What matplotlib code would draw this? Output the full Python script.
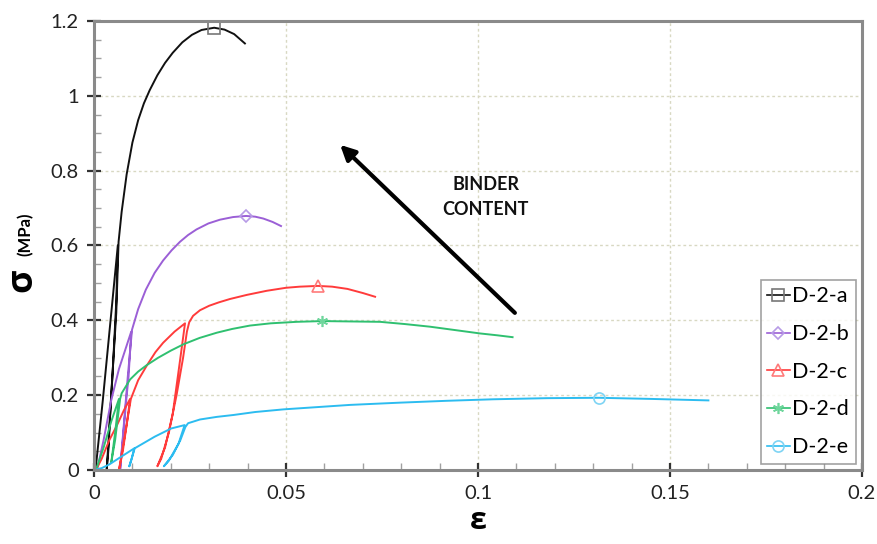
"""Stress-strain curves of the D-2 series under cyclic compression."""

import matplotlib

matplotlib.use("Agg")

import matplotlib.pyplot as plt
import numpy as np
from matplotlib.ticker import FuncFormatter, MultipleLocator

# strain / stress (MPa) for each specimen, including the early unload-reload loops
eps_a = [0.0004, 0.0023, 0.0045, 0.0062, 0.0058, 0.0048, 0.0038, 0.0033,
         0.0038, 0.0044, 0.0058, 0.0064, 0.0072, 0.0085, 0.0100, 0.0115,
         0.0130, 0.0145, 0.0165, 0.0185, 0.0205, 0.0230, 0.0255, 0.0280,
         0.0313, 0.0340, 0.0365, 0.0393]
sig_a = [0.0, 0.187, 0.42, 0.60, 0.45, 0.25, 0.08, 0.0,
         0.06, 0.187, 0.42, 0.61, 0.69, 0.79, 0.875, 0.935,
         0.98, 1.015, 1.055, 1.088, 1.115, 1.143, 1.163, 1.176,
         1.182, 1.177, 1.165, 1.14]

eps_b = [0.0008, 0.0025, 0.0045, 0.0065, 0.0097, 0.0090, 0.0084, 0.0075,
         0.0068, 0.0076, 0.0088, 0.0099, 0.0115, 0.0135, 0.0158, 0.0180,
         0.0202, 0.0224, 0.0245, 0.0267, 0.0298, 0.0328, 0.0362, 0.0396,
         0.0420, 0.0441, 0.0465, 0.0487]
sig_b = [0.0, 0.08, 0.187, 0.27, 0.37, 0.25, 0.187, 0.08,
         0.0, 0.10, 0.25, 0.375, 0.43, 0.482, 0.527, 0.56,
         0.587, 0.61, 0.628, 0.643, 0.659, 0.669, 0.676, 0.679,
         0.677, 0.672, 0.663, 0.652]

eps_c = [0.0005, 0.0020, 0.0040, 0.0060, 0.0078, 0.0094, 0.0085, 0.0075,
         0.0065, 0.0075, 0.0088, 0.0096, 0.0115, 0.0138, 0.0160, 0.0180,
         0.0210, 0.0237, 0.0225, 0.0205, 0.0185, 0.0165, 0.0175, 0.0195,
         0.0215, 0.0232, 0.0242, 0.0248, 0.0258, 0.0276, 0.0300, 0.0325,
         0.0354, 0.0398, 0.0450, 0.0500, 0.0536, 0.0583, 0.0620, 0.0660,
         0.0700, 0.0732]
sig_c = [0.0, 0.03, 0.08, 0.12, 0.16, 0.19, 0.12, 0.05,
         0.0, 0.06, 0.14, 0.19, 0.24, 0.28, 0.315, 0.34,
         0.37, 0.392, 0.30, 0.15, 0.06, 0.01, 0.03, 0.10,
         0.20, 0.30, 0.37, 0.395, 0.412, 0.427, 0.439, 0.448,
         0.457, 0.468, 0.479, 0.487, 0.490, 0.492, 0.490, 0.484,
         0.473, 0.463]

eps_d = [0.0005, 0.0025, 0.0045, 0.0065, 0.0055, 0.0045, 0.0055, 0.0068,
         0.0072, 0.0094, 0.0115, 0.0137, 0.0167, 0.0200, 0.0233, 0.0275,
         0.0320, 0.0360, 0.0406, 0.0460, 0.0528, 0.0594, 0.0670, 0.0745,
         0.0810, 0.0875, 0.0940, 0.1005, 0.1050, 0.1090]
sig_d = [0.0, 0.06, 0.13, 0.19, 0.10, 0.02, 0.08, 0.19,
         0.205, 0.242, 0.263, 0.28, 0.30, 0.319, 0.336, 0.353,
         0.367, 0.377, 0.386, 0.392, 0.396, 0.398, 0.397, 0.396,
         0.39, 0.383, 0.374, 0.365, 0.36, 0.355]

eps_e = [0.0, 0.0020, 0.0040, 0.0070, 0.0105, 0.0098, 0.0092, 0.0098,
         0.0106, 0.0158, 0.0201, 0.0236, 0.0220, 0.0195, 0.0182, 0.0205,
         0.0225, 0.0238, 0.0245, 0.0276, 0.0320, 0.0363, 0.0420, 0.0493,
         0.0580, 0.0667, 0.0797, 0.0920, 0.1040, 0.1180, 0.1315, 0.1450,
         0.1600]
sig_e = [0.0, 0.005, 0.015, 0.035, 0.058, 0.03, 0.01, 0.03,
         0.058, 0.089, 0.111, 0.12, 0.07, 0.025, 0.01, 0.04,
         0.08, 0.115, 0.125, 0.135, 0.142, 0.147, 0.155, 0.162,
         0.168, 0.174, 0.18, 0.185, 0.189, 0.192, 0.193, 0.19,
         0.186]

labels = ["D-2-a", "D-2-b", "D-2-c", "D-2-d", "D-2-e"]
line_colors = ["#111111", "#9b5fd6", "#ff3b3b", "#2fc070", "#2cbcf0"]
marker_colors = ["#777777", "#b79be6", "#ff7a7a", "#6fd69c", "#7fd4f4"]
markers = ["s", "D", "^", (6, 2, 0), "o"]

GRID = "#d8d8c2"
FRAME = "#8a8a8a"

fig = plt.figure(figsize=(8.78, 5.44), dpi=100)
ax = fig.add_axes([94 / 878, 74 / 544, 768 / 878, 449 / 544])

series = [(eps_a, sig_a), (eps_b, sig_b), (eps_c, sig_c), (eps_d, sig_d), (eps_e, sig_e)]
for (eps, sig), lab, lc, mc, mk in zip(series, labels, line_colors, marker_colors, markers):
    peak = int(np.argmax(sig))
    ax.plot(eps, sig, color=lc, lw=1.4, label=lab,
            marker=mk, markevery=[peak], markersize=8 if mk != "D" else 6.5,
            markerfacecolor="none", markeredgecolor=mc, markeredgewidth=1.2)

ax.set_xlim(0, 0.2)
ax.set_ylim(0, 1.2)

ax.xaxis.set_major_locator(MultipleLocator(0.05))
ax.xaxis.set_minor_locator(MultipleLocator(0.01))
ax.yaxis.set_major_locator(MultipleLocator(0.2))
ax.yaxis.set_minor_locator(MultipleLocator(0.05))
fmt = FuncFormatter(lambda v, _: f"{v:g}")
ax.xaxis.set_major_formatter(fmt)
ax.yaxis.set_major_formatter(fmt)

ax.grid(True, which="major", color=GRID, lw=1, linestyle=(0, (2, 2)))
ax.set_axisbelow(True)

ax.tick_params(which="major", direction="inout", length=10, width=1.6,
               color="#333333", labelsize=14.5, pad=6)
ax.tick_params(which="minor", direction="in", length=5, width=1, color="#a0a0a0")
for lab in ax.get_xticklabels() + ax.get_yticklabels():
    lab.set_family(["Lato", "DejaVu Sans"])
    lab.set_color("#222222")

for sp in ax.spines.values():
    sp.set_color(FRAME)
    sp.set_linewidth(2.2)

# axis titles
fig.text(478 / 878, 1 - 521 / 544, "ε", ha="center", va="center",
         fontsize=22, fontweight="bold", family=["Open Sans", "DejaVu Sans"])
fig.text(22 / 878, 1 - 280 / 544, "σ", ha="center", va="center", rotation=90,
         fontsize=26, fontweight="bold", family=["Open Sans", "DejaVu Sans"])
fig.text(25 / 878, 1 - 234 / 544, "(MPa)", ha="center", va="center", rotation=90,
         fontsize=12, fontweight="bold", family=["Lato", "DejaVu Sans"])

# trend arrow
ax.annotate("", xy=(0.0641, 0.869), xytext=(0.1096, 0.42),
            arrowprops=dict(arrowstyle="-|>", lw=3, color="black",
                            mutation_scale=22, shrinkA=0, shrinkB=0))
ax.text(0.102, 0.73, "BINDER\nCONTENT", ha="center", va="center",
        fontsize=13, fontweight="bold", linespacing=1.6, color="#111111",
        family=["Lato", "DejaVu Sans"])

leg = ax.legend(loc="lower right", bbox_to_anchor=(1.0, 0.0),
                handlelength=1.05, handletextpad=0.12, labelspacing=0.82,
                borderpad=0.3, borderaxespad=0.3, fancybox=False,
                prop={"family": ["Lato", "DejaVu Sans"], "size": 15.5})
leg.get_frame().set_edgecolor(FRAME)
leg.get_frame().set_linewidth(1.2)
for h in leg.legend_handles:
    h.set_linewidth(1.2)

fig.savefig("out.png", dpi=100)
